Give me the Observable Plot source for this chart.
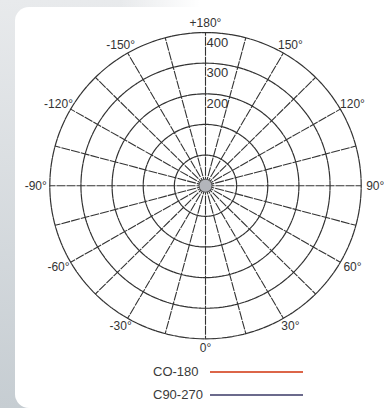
<!DOCTYPE html>
<html>
<head>
<meta charset="utf-8">
<script src="https://cdn.jsdelivr.net/npm/d3@7"></script>
<script src="https://cdn.jsdelivr.net/npm/@observablehq/plot@0.6"></script>
<style>
  html, body { margin: 0; padding: 0; }
  body {
    width: 384px; height: 408px; position: relative; overflow: hidden;
    background:
      linear-gradient(to right, rgba(255,255,255,0) 0px, rgba(255,255,255,0) 120px, #ffffff 200px) top left / 100% 8px no-repeat,
      linear-gradient(to bottom, #e8eaec, #c6cdd2);
    font-family: "Liberation Sans", Arial, sans-serif;
  }
  #panel { position: absolute; left: 15px; top: 7px; right: 0; bottom: 0; background: #fff; border-radius: 14px 0 0 14px; }
  #chart { position: absolute; left: 0; top: 0; }
  .leg { position: absolute; left: 153px; font-size: 13px; color: #3a3a3a; line-height: 14px; }
  .sw { position: absolute; height: 2px; }
</style>
</head>
<body>
<div id="panel"></div>
<div id="chart"></div>
<div id="legend"></div>
<script>
// ---- data ----
const ringValues = [0, 100, 200, 300, 400];
const ringLabelValues = [200, 300, 400];
const spokeAngles = [0, 15, 30, 45, 60, 75, 90, 105, 120, 135, 150, 165, 180, 195, 210, 225, 240, 255, 270, 285, 300, 315, 330, 345];
const labelAngles = [0, 30, 60, 90, 120, 150, 180, -150, -120, -90, -60, -30];
const labelTexts = ["0°", "30°", "60°", "90°", "120°", "150°", "+180°", "-150°", "-120°", "-90°", "-60°", "-30°"];
const seriesNames = ["CO-180", "C90-270"];
const seriesColors = ["#dc6548", "#6b6a8c"];

// ---- polar helpers ----
const rad = d3.scaleLinear().domain([-100, 400]).range([0, 5]);
const toRad = a => a * Math.PI / 180;
function pol(v, a) { const r = rad(v); return {x: r * Math.sin(toRad(a)), y: -r * Math.cos(toRad(a))}; }

const circlePts = [];
for (const v of ringValues) for (let a = 0; a <= 360; a += 2) circlePts.push({...pol(v, a), v});
const spokes = spokeAngles.map(a => { const o = pol(400, a); return {x1: 0, y1: 0, x2: o.x, y2: o.y}; });
const ringLabels = ringLabelValues.map(v => ({...pol(v, 180), t: String(v)}));
const angLabels = labelAngles.map((a, i) => {
  const s = Math.sin(toRad(a)), c = Math.cos(toRad(a));
  return {x: 5.3 * s + 0.15 * s, y: -5.3 * c, t: labelTexts[i]};
});

const grid = "#333";
const chart = Plot.plot({
  width: 384, height: 350, margin: 0,
  x: {domain: [-6.583, 5.748], axis: null},
  y: {domain: [-5.380, 6.046], axis: null},
  style: {background: "transparent", overflow: "visible", fontFamily: "Liberation Sans, Arial, sans-serif"},
  marks: [
    Plot.link(spokes, {x1: "x1", y1: "y1", x2: "x2", y2: "y2", stroke: grid, strokeWidth: 1.1, strokeDasharray: "9,1"}),
    Plot.line(circlePts, {x: "x", y: "y", z: "v", stroke: grid, strokeWidth: 1.2, strokeDasharray: "9,1"}),
    Plot.dot([{x: 0, y: 0}], {x: "x", y: "y", r: 6.5, fill: "#b3b5bb", stroke: "#555", strokeWidth: 1}),
    Plot.text(ringLabels, {x: "x", y: "y", text: "t", textAnchor: "start", dx: 1, dy: 10, fontSize: 13, fill: "#333"}),
    Plot.text(angLabels, {x: "x", y: "y", text: "t", fontSize: 12, fill: "#333"})
  ]
});
document.getElementById("chart").appendChild(chart);

// ---- legend ----
const leg = document.getElementById("legend");
seriesNames.forEach((name, i) => {
  const cy = 372 + i * 23;
  const t = document.createElement("div");
  t.className = "leg"; t.textContent = name; t.style.top = (cy - 7) + "px";
  leg.appendChild(t);
  const s = document.createElement("div");
  s.className = "sw"; s.style.left = "210px"; s.style.width = "93px"; s.style.top = (cy - 1) + "px";
  s.style.background = seriesColors[i];
  leg.appendChild(s);
});
</script>
</body>
</html>
